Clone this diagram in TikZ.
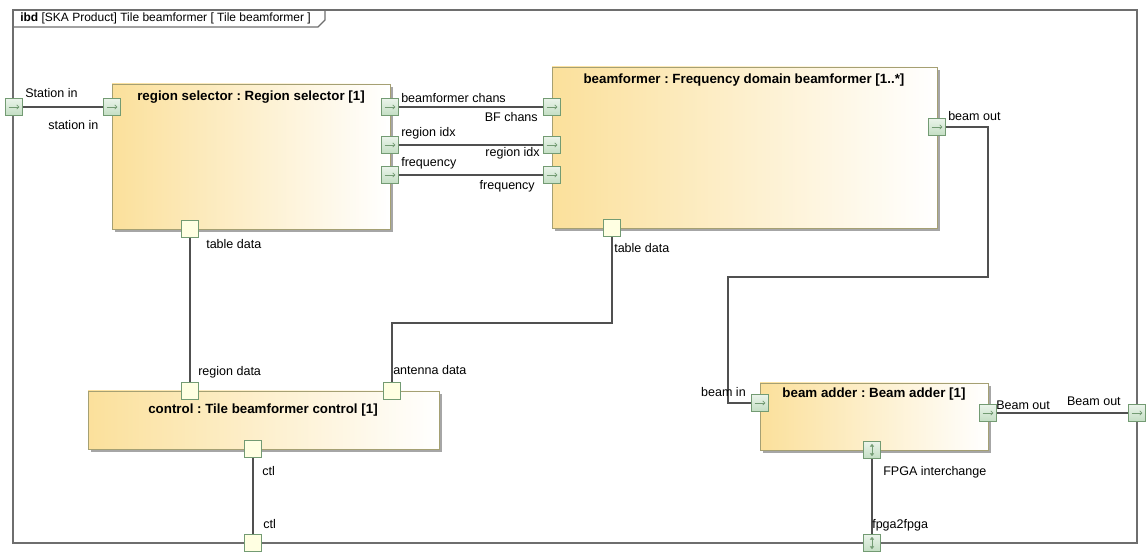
\documentclass[tikz,border=0pt]{standalone}
\usepackage{fontspec}
\setmainfont{Liberation Sans}
\frenchspacing
\usetikzlibrary{arrows.meta, positioning, fit, shadows}
\definecolor{partfill}{RGB}{251,224,155}
\definecolor{partline}{RGB}{165,160,115}
\definecolor{portline}{RGB}{115,155,115}
\definecolor{portfill}{RGB}{195,222,195}
\definecolor{plainfill}{RGB}{255,255,226}
\definecolor{wirecol}{RGB}{80,80,80}
\definecolor{framecol}{RGB}{110,110,110}
\newcommand{\lblfont}{\fontsize{9.4}{11}\selectfont}
\newcommand{\titlefont}{\fontsize{10}{12}\selectfont\bfseries}
\tikzset{%
  part/.style={draw=partline, inner sep=0pt, left color=partfill, right color=white,
    general shadow={fill=black!35, shadow xshift=2.2pt, shadow yshift=-2.2pt}},
  part title/.style={font=\titlefont, inner sep=0pt, anchor=base},
  port/.style={draw=portline, minimum size=12.75pt, inner sep=0pt, fill=plainfill},
  flow port/.style={port, top color=portfill!35!white, bottom color=portfill,
    path picture={\draw[portline, line width=0.5pt, -{Straight Barb[length=1.6pt,width=3.2pt]}]
      ([xshift=-4pt]path picture bounding box.center) -- ([xshift=4pt]path picture bounding box.center);}},
  both port/.style={port, top color=portfill!35!white, bottom color=portfill,
    path picture={
      \draw[portline, line width=0.4pt, -{Triangle[length=2pt,width=3pt]}]
        ([yshift=-0.8pt]path picture bounding box.center) -- ([yshift=4.6pt]path picture bounding box.center);
      \draw[portline, line width=0.4pt, -{Triangle[length=2pt,width=3pt]}]
        ([yshift=0.8pt]path picture bounding box.center) -- ([yshift=-4.6pt]path picture bounding box.center);}},
  wire/.style={draw=wirecol, line width=0.8pt},
  lbl/.style={font=\lblfont, inner sep=0pt, anchor=base west},
  rlbl/.style={font=\lblfont, inner sep=0pt, anchor=base east}
}

\begin{document}
\begin{tikzpicture}[x=0.75pt, y=-0.75pt]
  \useasboundingbox (0,0) rectangle (1147,552);
  % frame
  \draw[framecol, line width=0.8pt] (13,10) rectangle (1137,543);
  \draw[framecol, line width=0.8pt] (13,27) -- (318,27) -- (325,20) -- (325,10);
  \node[lbl, font=\fontsize{9}{11}\selectfont] (head) at (20,22) {\textbf{ibd} [SKA Product] Tile beamformer [ Tile beamformer ]};

  % parts
  \node[part, fit={(112,84) (390,229)}] (rs) {};
  \node[part title] (rs-t) at (251,101) {region selector : Region selector [1]};
  \node[part, fit={(552,67) (937,228)}] (bf) {};
  \node[part title] (bf-t) at (744,84) {beamformer : Frequency domain beamformer [1..*]};
  \node[part, fit={(88,391) (439,449)}] (ct) {};
  \node[part title] (ct-t) at (263,414) {control : Tile beamformer control [1]};
  \node[part, fit={(760,383) (988,450)}] (ba) {};
  \node[part title] (ba-t) at (874,398) {beam adder : Beam adder [1]};

  % ports
  \node[flow port] (sin) at (14,107) {};
  \node[flow port] (rsin) at (112,107) {};
  \node[flow port] (rsbf) at (390,107) {};
  \node[flow port] (rsidx) at (390,145) {};
  \node[flow port] (rsfrq) at (390,175) {};
  \node[port] (rstd) at (190,229) {};
  \node[flow port] (bfbf) at (552,107) {};
  \node[flow port] (bfidx) at (552,145) {};
  \node[flow port] (bffrq) at (552,175) {};
  \node[port] (bftd) at (612,228) {};
  \node[flow port] (bfout) at (937,127) {};
  \node[port] (ctrd) at (190,391) {};
  \node[port] (ctad) at (392,391) {};
  \node[port] (ctctl) at (253,449) {};
  \node[port] (fctl) at (253,543) {};
  \node[flow port] (bain) at (760,403) {};
  \node[flow port] (baout) at (988,413) {};
  \node[both port] (baif) at (872,450) {};
  \node[both port] (ffpga) at (872,543) {};
  \node[flow port] (fout) at (1137,413) {};

  % connectors
  \draw[wire] (sin) -- (rsin);
  \draw[wire] (rsbf) -- (bfbf);
  \draw[wire] (rsidx) -- (bfidx);
  \draw[wire] (rsfrq) -- (bffrq);
  \draw[wire] (rstd) -- (ctrd);
  \draw[wire] (bftd) -- (bftd |- 0,323) -| (ctad);
  \draw[wire] (bfout) -| (988,277) -| (728,403) -- (bain);
  \draw[wire] (baout) -- (fout);
  \draw[wire] (baif) -- (ffpga);
  \draw[wire] (ctctl) -- (fctl);

  % port labels
  \node[lbl] (l-sin) at (25,98) {Station in};
  \node[lbl] (l-rsin) at (48,130) {station in};
  \node[lbl] (l-rsbf) at (401,103) {beamformer chans};
  \node[rlbl] (l-bfbf) at (538,122) {BF chans};
  \node[lbl] (l-rsidx) at (401,137) {region idx};
  \node[rlbl] (l-bfidx) at (540,157) {region idx};
  \node[lbl] (l-rsfrq) at (401,167) {frequency};
  \node[rlbl] (l-bffrq) at (535,190) {frequency};
  \node[lbl] (l-bfout) at (948,121) {beam out};
  \node[lbl] (l-rstd) at (206,249) {table data};
  \node[lbl] (l-bftd) at (614,253) {table data};
  \node[lbl] (l-ctrd) at (198,376) {region data};
  \node[lbl] (l-ctad) at (393,375) {antenna data};
  \node[lbl] (l-ctctl) at (262,475) {ctl};
  \node[lbl] (l-fctl) at (263,528) {ctl};
  \node[rlbl] (l-bain) at (746,397) {beam in};
  \node[lbl] (l-baout) at (996,410) {Beam out};
  \node[rlbl] (l-fout) at (1121,406) {Beam out};
  \node[lbl] (l-baif) at (883,475) {FPGA interchange};
  \node[lbl] (l-ffpga) at (872,528) {fpga2fpga};
\end{tikzpicture}
\end{document}
